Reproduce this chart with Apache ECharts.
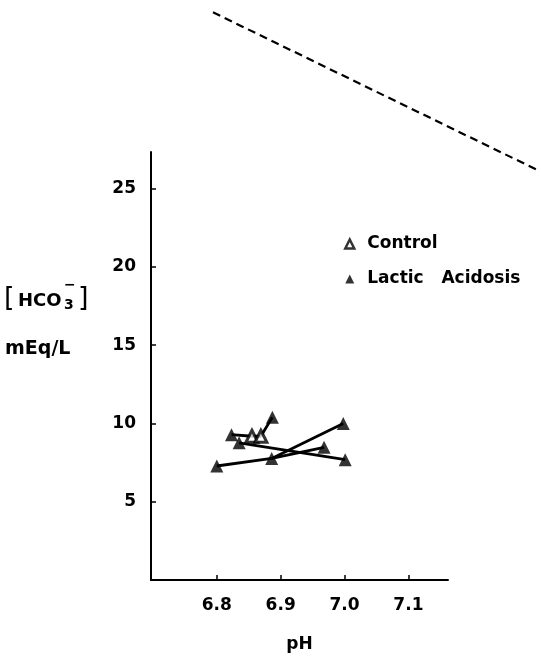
<!DOCTYPE html>
<html><head><meta charset="utf-8">
<script src="https://cdn.jsdelivr.net/npm/echarts@6/dist/echarts.min.js"></script>
<style>html,body{margin:0;padding:0;background:#fff}#c{width:541px;height:658px}</style>
</head><body><div id="c"></div>
<script>
// Tick labels
const xTicks = [6.8, 6.9, 7.0, 7.1];
const yTicks = [5, 10, 15, 20, 25];
const legendNames = ['Control', 'Lactic   Acidosis'];
// Marker values [pH, HCO3]
const controlPoints = [[6.855, 9.18], [6.869, 9.18]];
const lacticPoints = [[6.80, 7.28], [6.886, 7.76], [6.823, 9.28], [6.887, 10.39],
                      [6.835, 8.76], [7.001, 7.68], [6.998, 9.99], [6.968, 8.47]];
// Connecting lines
const seg1 = [[6.80, 7.28], [6.886, 7.76]];
const seg2 = [[6.823, 9.28], [6.855, 9.18], [6.869, 9.18], [6.887, 10.39]];
const seg3 = [[6.835, 8.76], [7.001, 7.68]];
const seg4 = [[6.886, 7.76], [6.998, 9.99]];
const seg5 = [[6.886, 7.76], [6.968, 8.47]];
const segments = [seg1, seg2, seg3, seg4, seg5];
// Dashed reference line (extends above the plot frame)
const refLine = [[6.794, 36.14], [7.306, 26.07]];

const FONT = 'DejaVu Sans';
const chart = echarts.init(document.getElementById('c'), null, {renderer: 'canvas'});

const lineSeries = segments.map(s => ({
  type: 'line', data: s, xAxisIndex: 0, yAxisIndex: 0,
  symbol: 'none', silent: true, animation: false,
  lineStyle: {color: '#000', width: 2.8}
}));

chart.setOption({
  animation: false,
  backgroundColor: '#fff',
  grid: [
    {left: 151, right: 93, top: 152, bottom: 75},
    {left: 0, right: 0, top: 0, bottom: 75}
  ],
  xAxis: [{
    type: 'value', gridIndex: 0, min: 6.697, max: 7.162,
    name: 'pH', nameLocation: 'middle', nameGap: 56,
    nameTextStyle: {fontFamily: FONT, fontWeight: 'bold', fontSize: 17, color: '#000'},
    axisLine: {show: true, onZero: false, lineStyle: {color: '#000', width: 2}},
    axisTick: {show: true, inside: true, length: 5, lineStyle: {color: '#000', width: 1.5}, customValues: xTicks},
    axisLabel: {show: true, margin: 17, fontFamily: FONT, fontWeight: 'bold', fontSize: 17, color: '#000',
      customValues: xTicks, formatter: v => v.toFixed(1)},
    splitLine: {show: false}
  }, {
    type: 'value', gridIndex: 1, min: 6.4607, max: 7.3073, show: false
  }],
  yAxis: [{
    type: 'value', gridIndex: 0, min: 0, max: 27.33,
    axisLine: {show: true, onZero: false, lineStyle: {color: '#000', width: 2}},
    axisTick: {show: true, inside: true, length: 5, lineStyle: {color: '#000', width: 1.5}, customValues: yTicks},
    axisLabel: {show: true, margin: 15, fontFamily: FONT, fontWeight: 'bold', fontSize: 17, color: '#000',
      customValues: yTicks, formatter: v => String(v)},
    splitLine: {show: false}
  }, {
    type: 'value', gridIndex: 1, min: 0, max: 36.92, show: false
  }],
  legend: {
    orient: 'vertical', left: 339, top: 229,
    itemWidth: 9, itemHeight: 9, itemGap: 15,
    data: [
      {name: legendNames[0], icon: 'triangle', itemStyle: {color: '#fff', borderColor: '#000', borderWidth: 2.5}},
      {name: legendNames[1], icon: 'triangle', itemStyle: {color: '#000'}}
    ],
    textStyle: {fontFamily: FONT, fontWeight: 'bold', fontSize: 17, color: '#000', lineHeight: 20, padding: [0, 0, 0, 8]}
  },
  graphic: [
    {type: 'text', left: 4, top: 285, style: {text: '[', font: 'normal 27px "DejaVu Sans"', fill: '#000'}},
    {type: 'text', left: 18, top: 292, style: {text: 'HCO', font: 'bold 18px "DejaVu Sans"', fill: '#000'}},
    {type: 'text', left: 64, top: 298, style: {text: '3', font: 'bold 14px "DejaVu Sans"', fill: '#000'}},
    {type: 'text', left: 64, top: 278, style: {text: '\u2212', font: 'bold 14px "DejaVu Sans"', fill: '#000'}},
    {type: 'text', left: 78, top: 285, style: {text: ']', font: 'normal 27px "DejaVu Sans"', fill: '#000'}},
    {type: 'text', left: 5, top: 340, style: {text: 'mEq/L', font: 'bold 19px "DejaVu Sans"', fill: '#000'}}
  ],
  series: [
    ...lineSeries,
    {type: 'line', data: refLine, xAxisIndex: 1, yAxisIndex: 1, symbol: 'none', silent: true,
     lineStyle: {color: '#000', width: 2.2, type: [8, 5]}},
    {name: legendNames[0], type: 'scatter', data: controlPoints, symbol: 'triangle', symbolSize: 12,
     itemStyle: {color: '#fff', borderColor: '#000', borderWidth: 3}, z: 5},
    {name: legendNames[1], type: 'scatter', data: lacticPoints, symbol: 'triangle', symbolSize: 13,
     itemStyle: {color: '#000'}, z: 5}
  ]
});
</script></body></html>
